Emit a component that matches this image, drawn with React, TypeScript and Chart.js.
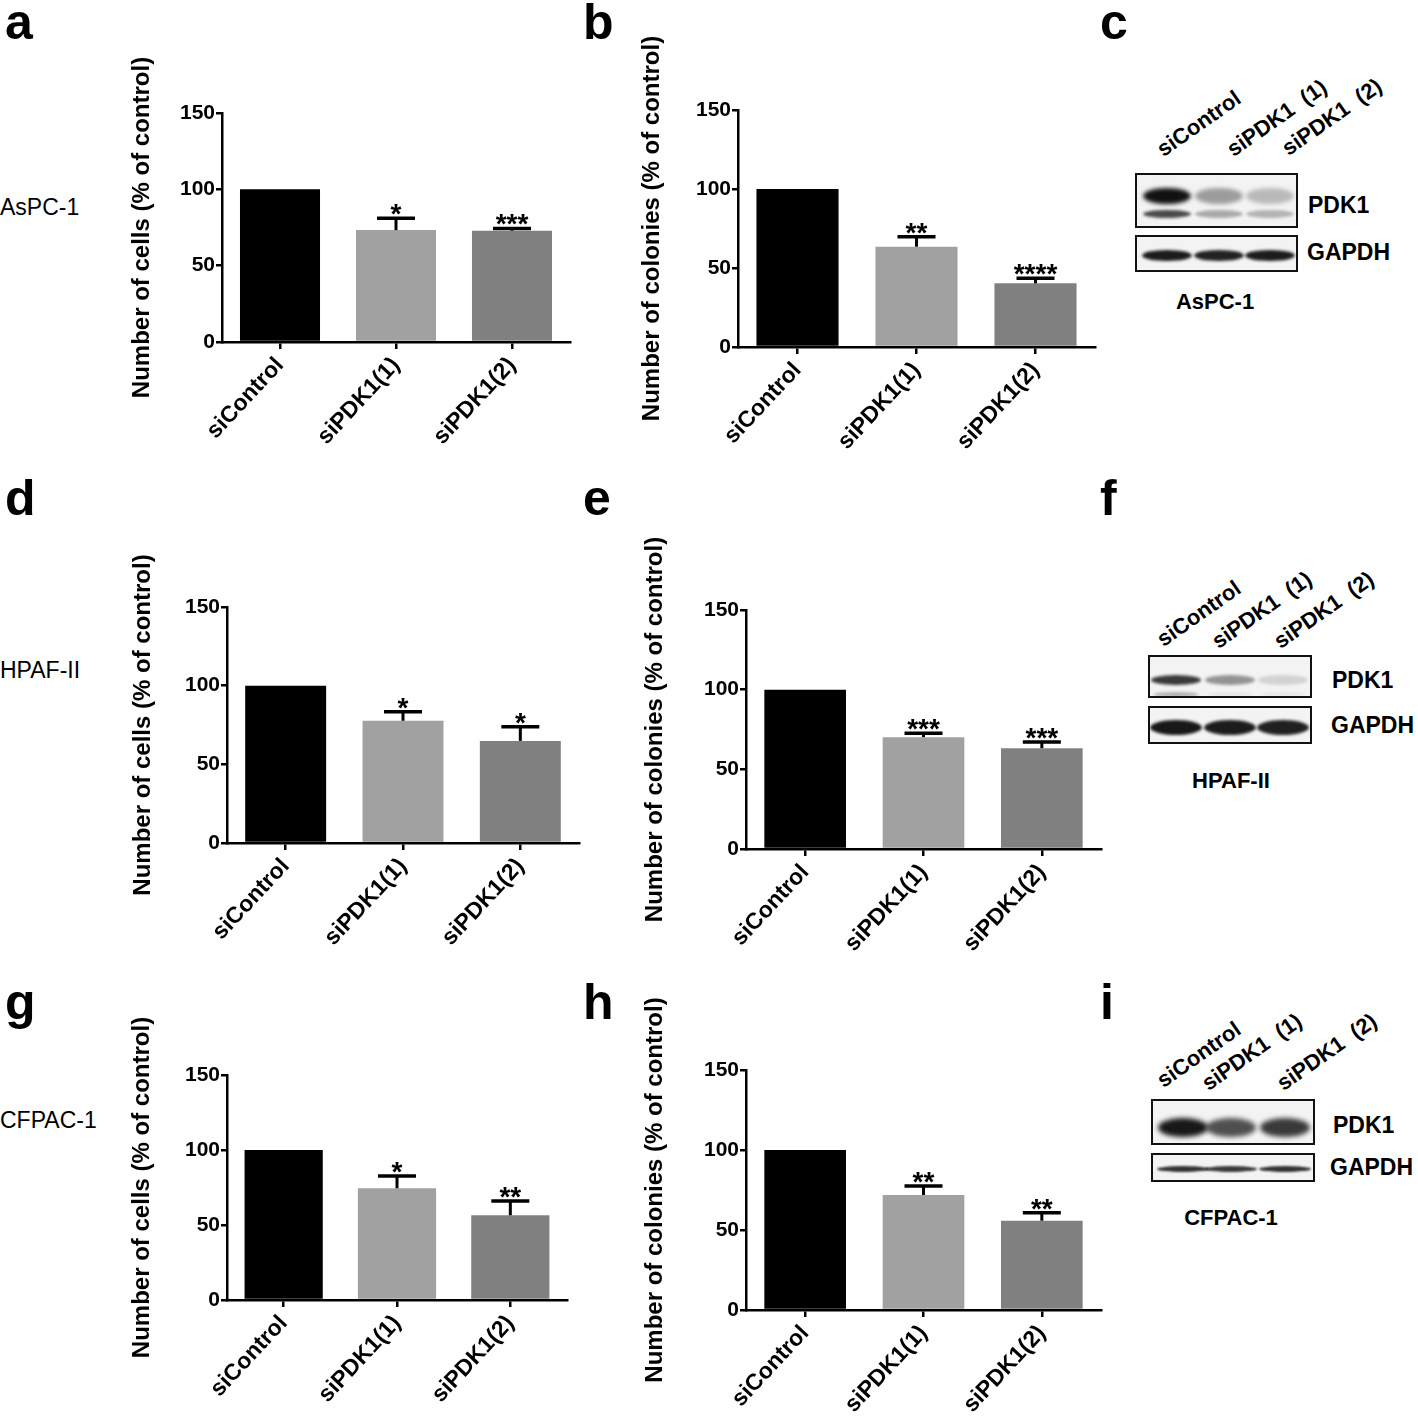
import React, { useEffect, useRef } from "react";
import { Chart, registerables } from "chart.js";

Chart.register(...registerables);

// ---------------- DATA ----------------
const categories = ["siControl", "siPDK1(1)", "siPDK1(2)"];
const yTickValues = [0, 50, 100, 150];

const cellsAsPC1 = [100, 73.3, 72.9];
const cellsAsPC1Err = [0, 7.7, 1.5];
const cellsAsPC1Sig = ["", "*", "***"];

const coloniesAsPC1 = [100, 63.5, 40.3];
const coloniesAsPC1Err = [0, 6.3, 3.2];
const coloniesAsPC1Sig = ["", "**", "****"];

const cellsHPAF = [100, 77.7, 64.9];
const cellsHPAFErr = [0, 5.7, 9.0];
const cellsHPAFSig = ["", "*", "*"];

const coloniesHPAF = [100, 70.2, 63.3];
const coloniesHPAFErr = [0, 2.5, 3.8];
const coloniesHPAFSig = ["", "***", "***"];

const cellsCFPAC = [100, 74.5, 56.5];
const cellsCFPACErr = [0, 8.2, 9.5];
const cellsCFPACSig = ["", "*", "**"];

const coloniesCFPAC = [100, 71.9, 55.8];
const coloniesCFPACErr = [0, 5.6, 5.0];
const coloniesCFPACSig = ["", "**", "**"];

const titleCells = "Number of cells (% of control)";
const titleColonies = "Number of colonies (% of control)";

const blotLanes = ["siControl", "siPDK1  (1)", "siPDK1  (2)"];
// band intensities (0..1) per lane
const aspcPDK1Upper = [1.0, 0.38, 0.25];
const aspcPDK1Lower = [0.75, 0.32, 0.28];
const aspcGAPDH = [0.95, 0.92, 0.95];
const hpafPDK1Upper = [0.82, 0.42, 0.14];
const hpafPDK1Lower = [0.3, 0.06, 0.05];
const hpafGAPDH = [0.97, 0.95, 0.93];
const cfpacPDK1 = [0.97, 0.72, 0.82];
const cfpacGAPDH = [0.85, 0.82, 0.85];

// ---------------- STYLE ----------------
const FONT = "'Liberation Sans', Arial, Helvetica, sans-serif";
const barColors = ["#000000", "#a1a1a1", "#808080"];

type Area = { l: number; r: number; t: number; b: number };
type PanelCfg = {
  title: string;
  values: number[];
  errs: number[];
  sig: string[];
  area: Area;
  titleOff: number;
};

const panels: PanelCfg[] = [
  { title: titleCells, values: cellsAsPC1, errs: cellsAsPC1Err, sig: cellsAsPC1Sig, area: { l: 222, r: 570, t: 113, b: 342 }, titleOff: 80 },
  { title: titleColonies, values: coloniesAsPC1, errs: coloniesAsPC1Err, sig: coloniesAsPC1Sig, area: { l: 738, r: 1095, t: 110, b: 347 }, titleOff: 86 },
  { title: titleCells, values: cellsHPAF, errs: cellsHPAFErr, sig: cellsHPAFSig, area: { l: 227, r: 579, t: 607, b: 843 }, titleOff: 84 },
  { title: titleColonies, values: coloniesHPAF, errs: coloniesHPAFErr, sig: coloniesHPAFSig, area: { l: 746, r: 1101, t: 610, b: 849 }, titleOff: 91 },
  { title: titleCells, values: cellsCFPAC, errs: cellsCFPACErr, sig: cellsCFPACSig, area: { l: 227, r: 567, t: 1075, b: 1300 }, titleOff: 85 },
  { title: titleColonies, values: coloniesCFPAC, errs: coloniesCFPACErr, sig: coloniesCFPACSig, area: { l: 746, r: 1101, t: 1070, b: 1310 }, titleOff: 91 },
];

function BarPanel({ cfg }: { cfg: PanelCfg }) {
  const ref = useRef<HTMLCanvasElement>(null);
  const cx = cfg.area.l - 130;
  const cy = cfg.area.t - 80;
  const cw = cfg.area.r - cx + 20;
  const ch = cfg.area.b - cy + 140;

  useEffect(() => {
    if (!ref.current) return;
    const plugin = {
      id: "errStars",
      afterDatasetsDraw(chart: any) {
        const { ctx, chartArea } = chart;
        const y = chart.scales.y;
        const meta = chart.getDatasetMeta(0);
        meta.data.forEach((bar: any, i: number) => {
          const e = cfg.errs[i];
          const v = cfg.values[i];
          ctx.save();
          ctx.strokeStyle = "#000";
          ctx.fillStyle = "#000";
          if (e > 0) {
            const yb = y.getPixelForValue(v);
            const yt = y.getPixelForValue(v + e);
            ctx.lineWidth = 3;
            ctx.beginPath();
            ctx.moveTo(bar.x, yb);
            ctx.lineTo(bar.x, yt);
            ctx.stroke();
            ctx.lineWidth = 3.5;
            ctx.beginPath();
            ctx.moveTo(bar.x - 19, yt);
            ctx.lineTo(bar.x + 19, yt);
            ctx.stroke();
          }
          if (cfg.sig[i]) {
            const yt = y.getPixelForValue(v + e);
            ctx.font = `bold 28px ${FONT}`;
            ctx.textAlign = "center";
            ctx.textBaseline = "alphabetic";
            ctx.fillText(cfg.sig[i], bar.x, yt + 5);
          }
          ctx.restore();
        });
        ctx.save();
        ctx.translate(chartArea.left - cfg.titleOff, (chartArea.top + chartArea.bottom) / 2);
        ctx.rotate(-Math.PI / 2);
        ctx.font = `bold 24px ${FONT}`;
        ctx.fillStyle = "#000";
        ctx.textAlign = "center";
        ctx.textBaseline = "middle";
        ctx.fillText(cfg.title, 0, 0);
        ctx.restore();
      },
    };

    const xHeight = ch - (cfg.area.b - cy);
    const yWidth = cfg.area.l - cx;
    const chart = new Chart(ref.current, {
      type: "bar",
      data: {
        labels: categories,
        datasets: [
          {
            data: cfg.values,
            backgroundColor: barColors,
            borderWidth: 0,
            barPercentage: 0.69,
            categoryPercentage: 1,
          },
        ],
      },
      options: {
        responsive: false,
        animation: false,
        devicePixelRatio: 1,
        layout: {
          padding: { left: 0, top: cfg.area.t - cy, right: cx + cw - cfg.area.r, bottom: 0 },
        },
        plugins: { legend: { display: false }, tooltip: { enabled: false } },
        scales: {
          x: {
            offset: true,
            grid: {
              offset: false,
              drawOnChartArea: false,
              drawTicks: true,
              tickLength: 7,
              color: "#000",
              lineWidth: 2.5,
            },
            border: { display: true, color: "#000", width: 2.5 },
            ticks: {
              minRotation: 47,
              maxRotation: 47,
              color: "#000",
              padding: 3,
              font: { family: FONT, size: 23, weight: "bold" },
            },
            afterFit: (s: any) => {
              s.height = xHeight;
              s.paddingLeft = 0;
              s.paddingRight = 0;
              s.paddingTop = 0;
              s.paddingBottom = 0;
            },
          },
          y: {
            min: 0,
            max: 150,
            afterBuildTicks: (s: any) => {
              s.ticks = yTickValues.map((v) => ({ value: v }));
            },
            ticks: {
              color: "#000",
              padding: 1,
              font: { family: FONT, size: 21, weight: "bold" },
            },
            grid: {
              drawOnChartArea: false,
              drawTicks: true,
              tickLength: 6,
              color: "#000",
              lineWidth: 2.5,
            },
            border: { display: true, color: "#000", width: 2.5 },
            afterFit: (s: any) => {
              s.width = yWidth;
              s.paddingLeft = 0;
              s.paddingRight = 0;
              s.paddingTop = 0;
              s.paddingBottom = 0;
            },
          },
        },
      } as any,
      plugins: [plugin],
    });
    return () => chart.destroy();
  }, []);

  return (
    <canvas
      ref={ref}
      width={cw}
      height={ch}
      style={{ position: "absolute", left: cx, top: cy, width: cw, height: ch }}
    />
  );
}

function Txt({ x, y, size, text, bold = false, center = false }: { x: number; y: number; size: number; text: string; bold?: boolean; center?: boolean }) {
  return (
    <div
      style={{
        position: "absolute",
        left: x,
        top: y - 0.8465 * size,
        fontFamily: FONT,
        fontSize: size,
        lineHeight: `${size}px`,
        fontWeight: bold ? "bold" : "normal",
        whiteSpace: "pre",
        color: "#000",
        transform: center ? "translateX(-50%)" : undefined,
      }}
    >
      {text}
    </div>
  );
}

function RotTxt({ x, y, size, text, angle }: { x: number; y: number; size: number; text: string; angle: number }) {
  return (
    <div style={{ position: "absolute", left: x, top: y, width: 0, height: 0, transform: `rotate(${-angle}deg)`, transformOrigin: "0 0" }}>
      <span
        style={{
          position: "absolute",
          left: 0,
          top: -0.8465 * size,
          fontFamily: FONT,
          fontSize: size,
          lineHeight: `${size}px`,
          fontWeight: "bold",
          whiteSpace: "pre",
          color: "#000",
        }}
      >
        {text}
      </span>
    </div>
  );
}

type Band = { y: number; h: number; w: number; vals: number[]; blur: number };
type BlotCfg = {
  pdk: { x: number; y: number; w: number; h: number };
  gapdh: { x: number; y: number; w: number; h: number };
  lanesX: number[];
  pdkBands: Band[];
  gapdhBands: Band[];
  labelStarts: [number, number][];
  pdkLabel: [number, number];
  gapdhLabel: [number, number];
  cell: string;
  cellPos: [number, number];
};

const blots: BlotCfg[] = [
  {
    pdk: { x: 1135, y: 173, w: 163, h: 55 },
    gapdh: { x: 1135, y: 235, w: 163, h: 37 },
    lanesX: [1165, 1217, 1268],
    pdkBands: [
      { y: 194, h: 16, w: 48, vals: aspcPDK1Upper, blur: 2 },
      { y: 212, h: 8, w: 48, vals: aspcPDK1Lower, blur: 1.5 },
    ],
    gapdhBands: [{ y: 253, h: 11, w: 50, vals: aspcGAPDH, blur: 1.5 }],
    labelStarts: [[1164, 158], [1234, 158], [1289, 157]],
    pdkLabel: [1308, 213],
    gapdhLabel: [1307, 260],
    cell: "AsPC-1",
    cellPos: [1215, 310],
  },
  {
    pdk: { x: 1148, y: 655, w: 164, h: 43 },
    gapdh: { x: 1148, y: 706, w: 164, h: 38 },
    lanesX: [1174, 1228, 1281],
    pdkBands: [
      { y: 678, h: 10, w: 50, vals: hpafPDK1Upper, blur: 1.5 },
      { y: 692, h: 5, w: 46, vals: hpafPDK1Lower, blur: 1.5 },
    ],
    gapdhBands: [{ y: 725, h: 15, w: 52, vals: hpafGAPDH, blur: 1.5 }],
    labelStarts: [[1164, 648], [1219, 650], [1281, 650]],
    pdkLabel: [1332, 688],
    gapdhLabel: [1331, 733],
    cell: "HPAF-II",
    cellPos: [1231, 789],
  },
  {
    pdk: { x: 1151, y: 1099, w: 164, h: 46 },
    gapdh: { x: 1151, y: 1153, w: 164, h: 29 },
    lanesX: [1181, 1229, 1283],
    pdkBands: [{ y: 1125, h: 19, w: 50, vals: cfpacPDK1, blur: 2.5 }],
    gapdhBands: [{ y: 1167, h: 6, w: 52, vals: cfpacGAPDH, blur: 1.2 }],
    labelStarts: [[1164, 1089], [1209, 1092], [1284, 1092]],
    pdkLabel: [1333, 1133],
    gapdhLabel: [1330, 1175],
    cell: "CFPAC-1",
    cellPos: [1231, 1226],
  },
];

function BlotBox({ box, bands, lanesX }: { box: { x: number; y: number; w: number; h: number }; bands: Band[]; lanesX: number[] }) {
  return (
    <div
      style={{
        position: "absolute",
        left: box.x,
        top: box.y,
        width: box.w,
        height: box.h,
        boxSizing: "border-box",
        border: "2px solid #111",
        background: "#f3f3f3",
        overflow: "hidden",
      }}
    >
      {bands.map((b, bi) =>
        lanesX.map((lx, li) => (
          <div
            key={`${bi}-${li}`}
            style={{
              position: "absolute",
              left: lx - box.x - b.w / 2,
              top: b.y - box.y - b.h / 2,
              width: b.w,
              height: b.h,
              borderRadius: "50%",
              background: "#111",
              opacity: b.vals[li],
              filter: `blur(${b.blur}px)`,
            }}
          />
        ))
      )}
    </div>
  );
}

function Blot({ cfg }: { cfg: BlotCfg }) {
  return (
    <>
      {blotLanes.map((t, i) => (
        <RotTxt key={t} x={cfg.labelStarts[i][0]} y={cfg.labelStarts[i][1]} size={22} angle={35} text={t} />
      ))}
      <BlotBox box={cfg.pdk} bands={cfg.pdkBands} lanesX={cfg.lanesX} />
      <BlotBox box={cfg.gapdh} bands={cfg.gapdhBands} lanesX={cfg.lanesX} />
      <Txt x={cfg.pdkLabel[0]} y={cfg.pdkLabel[1]} size={23} bold text="PDK1" />
      <Txt x={cfg.gapdhLabel[0]} y={cfg.gapdhLabel[1]} size={23} bold text="GAPDH" />
      <Txt x={cfg.cellPos[0]} y={cfg.cellPos[1]} size={22} bold center text={cfg.cell} />
    </>
  );
}

const panelLetters: [string, number, number][] = [
  ["a", 5, 39], ["b", 583, 39], ["c", 1100, 39],
  ["d", 5, 515], ["e", 583, 515], ["f", 1100, 515],
  ["g", 5, 1019], ["h", 583, 1019], ["i", 1100, 1019],
];
const cellLines: [string, number][] = [["AsPC-1", 215], ["HPAF-II", 678], ["CFPAC-1", 1128]];

export default function App() {
  return (
    <div style={{ position: "absolute", left: 0, top: 0, width: 1418, height: 1427, background: "#fff", overflow: "hidden" }}>
      {panelLetters.map(([t, x, y]) => (
        <Txt key={t} x={x} y={y} size={50} bold text={t} />
      ))}
      {cellLines.map(([t, y]) => (
        <Txt key={t} x={0} y={y} size={23} text={t} />
      ))}
      {panels.map((p, i) => (
        <BarPanel key={i} cfg={p} />
      ))}
      {blots.map((b, i) => (
        <Blot key={i} cfg={b} />
      ))}
    </div>
  );
}
